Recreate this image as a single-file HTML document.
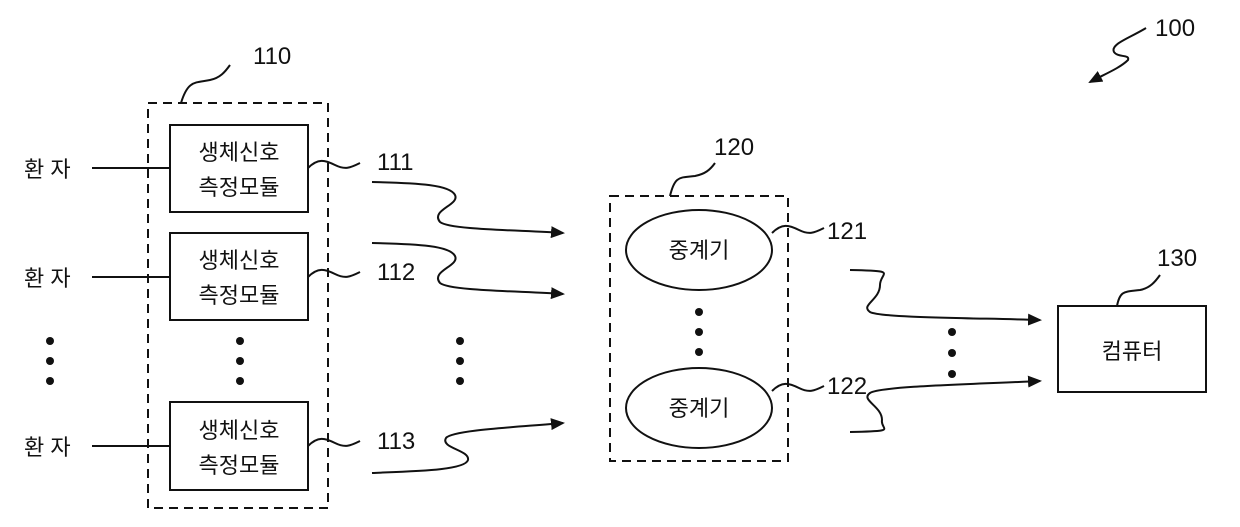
<!DOCTYPE html>
<html><head><meta charset="utf-8"><style>
html,body{margin:0;padding:0;background:#fff;}
svg{display:block;}
text{font-family:"Liberation Sans","Noto Sans CJK KR",sans-serif;fill:#111;}
.k{font-size:22px;}
.n{font-size:24px;}
</style></head><body>
<svg width="1240" height="527" viewBox="0 0 1240 527" xmlns="http://www.w3.org/2000/svg">
<defs><marker id="a" markerWidth="14" markerHeight="12" refX="12" refY="6" orient="auto" markerUnits="userSpaceOnUse"><path d="M0,0 L14,6 L0,12 z" fill="#111"/></marker></defs>
<g fill="none" stroke="#111" stroke-width="2">
<rect x="148" y="103" width="180" height="405" stroke-dasharray="9,6"/>
<rect x="610" y="196" width="178" height="265" stroke-dasharray="9,6"/>
<rect x="170" y="125" width="138" height="87"/>
<rect x="170" y="233" width="138" height="87"/>
<rect x="170" y="402" width="138" height="88"/>
<rect x="1058" y="306" width="148" height="86"/>
<ellipse cx="699" cy="250" rx="73" ry="40"/>
<ellipse cx="699" cy="408" rx="73" ry="40"/>
<line x1="92" y1="168" x2="170" y2="168"/>
<line x1="92" y1="277" x2="170" y2="277"/>
<line x1="92" y1="446" x2="170" y2="446"/>
<path d="M181,103 C188,80 195,83 210,80 C220,78 225,72 230,65"/>
<path d="M670,196 C675,175 680,178 695,176 C705,174 710,170 715,163"/>
<path d="M1117,306 C1120,290 1125,292 1140,290 C1150,288 1155,282 1160,275"/>
<path d="M308,168 C318,158 325,160 335,165 C345,170 350,168 360,163"/>
<path d="M308,277 C318,267 325,269 335,274 C345,279 350,277 360,272"/>
<path d="M308,446 C318,436 325,438 335,443 C345,448 350,446 360,441"/>
<path d="M772,233 C782,223 789,225 799,230 C809,235 814,233 824,228"/>
<path d="M772,391 C782,381 789,383 799,388 C809,393 814,391 824,386"/>
<path d="M372,182 C420,183 450,185 455,195 C460,205 430,210 440,222 C450,230 520,230 563,233" marker-end="url(#a)"/>
<path d="M372,243 C420,244 450,246 455,256 C460,266 430,271 440,283 C450,291 520,291 563,294" marker-end="url(#a)"/>
<path d="M372,473 C420,471 465,470 468,460 C470,450 440,448 446,438 C452,430 520,427 563,423" marker-end="url(#a)"/>
<path d="M850,270 C900,271 880,272 880,285 C880,300 860,305 870,312 C880,318 980,318 1040,320" marker-end="url(#a)"/>
<path d="M850,432 C900,431 880,430 882,420 C882,406 860,400 870,393 C880,386 980,384 1040,381" marker-end="url(#a)"/>
<path d="M1146,28 C1130,38 1110,44 1114,52 C1118,58 1130,54 1128,60 C1120,68 1105,74 1090,82" marker-end="url(#a)"/>
</g>
<g fill="#111">
<circle cx="50" cy="341" r="4"/><circle cx="50" cy="361" r="4"/><circle cx="50" cy="381" r="4"/>
<circle cx="240" cy="341" r="4"/><circle cx="240" cy="361" r="4"/><circle cx="240" cy="381" r="4"/>
<circle cx="460" cy="341" r="4"/><circle cx="460" cy="361" r="4"/><circle cx="460" cy="381" r="4"/>
<circle cx="699" cy="312" r="4"/><circle cx="699" cy="332" r="4"/><circle cx="699" cy="352" r="4"/>
<circle cx="952" cy="332" r="4"/><circle cx="952" cy="353" r="4"/><circle cx="952" cy="374" r="4"/>
</g>
<g class="k">
<text x="24" y="177">환 자</text>
<text x="24" y="286">환 자</text>
<text x="24" y="455">환 자</text>
<text x="239" y="160" text-anchor="middle">생체신호</text>
<text x="239" y="195" text-anchor="middle">측정모듈</text>
<text x="239" y="268" text-anchor="middle">생체신호</text>
<text x="239" y="303" text-anchor="middle">측정모듈</text>
<text x="239" y="438" text-anchor="middle">생체신호</text>
<text x="239" y="473" text-anchor="middle">측정모듈</text>
<text x="699" y="258" text-anchor="middle">중계기</text>
<text x="699" y="416" text-anchor="middle">중계기</text>
<text x="1132" y="359" text-anchor="middle">컴퓨터</text>
</g>
<g class="n">
<text x="253" y="64">110</text>
<text x="714" y="155">120</text>
<text x="377" y="170">111</text>
<text x="377" y="280">112</text>
<text x="377" y="449">113</text>
<text x="827" y="239">121</text>
<text x="827" y="394">122</text>
<text x="1157" y="266">130</text>
<text x="1155" y="36">100</text>
</g>
</svg>
</body></html>
